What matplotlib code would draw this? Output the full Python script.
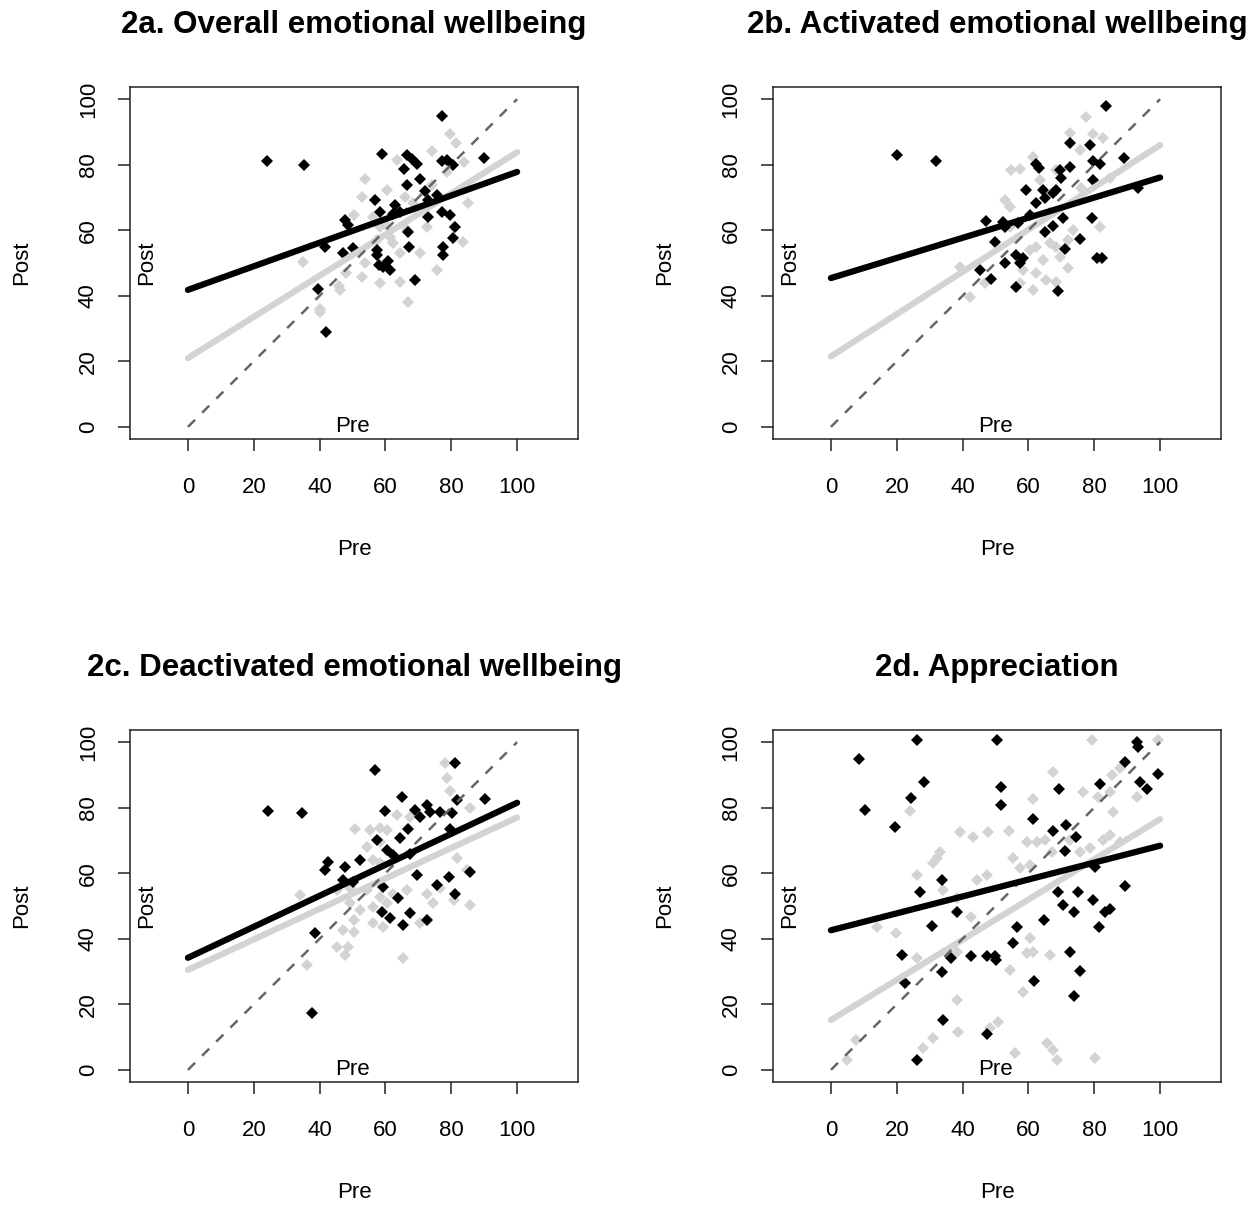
import matplotlib
from matplotlib import pyplot as plt
import numpy as np

matplotlib.use("Agg")
plt.rcParams["font.family"] = ["Liberation Sans", "DejaVu Sans"]

titles = ["2a. Overall emotional wellbeing", "2b. Activated emotional wellbeing",
          "2c. Deactivated emotional wellbeing", "2d. Appreciation"]

# black group (pre, post)
black_a_x = [77.1, 23.9, 35.3, 59.1, 66.5, 68, 69.5, 65.7, 77.1, 78.6, 80.6, 89.8, 66.5, 70.5, 56.8, 62.9, 58.2, 73,
             75.6, 62.4, 64.4, 47.7, 48.7, 77.1, 79.6, 73, 41.6, 47.2, 50.2, 67, 80.6, 67.3, 77.6, 77.6, 57.4, 57.4,
             57.9, 60.9, 61.4, 59.4, 69, 39.4, 41.9, 72, 81]
black_a_y = [94.8, 81.1, 79.8, 83.3, 83.1, 81.6, 80.2, 78.7, 81.2, 81.4, 79.9, 82.1, 73.8, 75.5, 69.2, 67.7, 65.5, 69.2,
             70.7, 65.1, 65.6, 63.1, 61.6, 65.6, 64.6, 64.1, 55, 53.1, 54.5, 59.5, 57.5, 55, 55, 52.4, 53.9, 52.4,
             49.4, 50.5, 47.9, 48.9, 44.8, 42, 28.8, 72, 61]
black_b_x = [83.5, 20.1, 32, 62.4, 63.2, 72.5, 78.6, 69.5, 72.5, 70, 79.6, 81.7, 89, 79.6, 93.3, 59.4, 64.4, 67.5, 68.5,
             64.9, 62.4, 47.2, 52.3, 52.8, 56.8, 60.4, 70.5, 67.5, 64.9, 79.2, 49.8, 75.6, 71, 80.8, 82.3, 56.3, 58.4,
             57.3, 52.8, 45.2, 48.7, 56.3, 69]
black_b_y = [97.9, 82.9, 81.1, 80.2, 78.9, 86.5, 86, 78.4, 79.2, 75.8, 81.2, 80.2, 82.1, 75.3, 72.8, 72.3, 72.3, 71.3,
             72.3, 69.7, 68.2, 62.8, 62.6, 61.1, 62.1, 64.6, 63.8, 61.3, 59.6, 63.8, 56.5, 57.2, 54.2, 51.6, 51.6,
             52.4, 51.4, 49.9, 49.9, 47.9, 45.1, 42.8, 41.5]
black_c_x = [81.2, 56.8, 24.4, 34.8, 65, 69, 70.5, 72.6, 73.6, 59.9, 81.7, 90.3, 76.6, 80.2, 67, 64.4, 57.3, 79.6, 60.4,
             62.4, 67.5, 52.3, 42.7, 41.6, 47.7, 50.2, 47.2, 59.4, 69.5, 79.2, 75.6, 85.7, 81.2, 63.9, 58.9, 61.4,
             67.5, 72.5, 65.4, 38.6, 37.6]
black_c_y = [93.5, 91.5, 79, 78.3, 83.3, 79.3, 77.3, 80.8, 78.8, 79, 82.3, 82.5, 78.8, 78.3, 73.4, 70.6, 70.1, 73.6,
             67.1, 65.5, 66, 63.9, 63.5, 60.9, 61.9, 57.3, 57.8, 55.9, 59.4, 58.9, 56.4, 60.4, 53.8, 52.3, 48.3, 46.2,
             47.8, 45.7, 44.1, 41.8, 17.4]
black_d_x = [8.5, 26, 50.6, 10.5, 24.2, 28.3, 19.4, 51.7, 51.7, 92.9, 93.4, 89.3, 99.5, 81.7, 93.9, 95.9, 69.2, 61.3,
             67.4, 71.4, 74.5, 71.1, 80.2, 89.3, 69.1, 70.6, 75.2, 73.7, 79.7, 83.3, 84.8, 81.3, 64.8, 33.6, 27.2,
             38.4, 30.8, 56.4, 21.5, 33.8, 36.4, 42.7, 47.3, 49.9, 50.1, 55.4, 61.8, 22.5, 72.6, 75.7, 73.7, 34.1,
             47.5, 26]
black_d_y = [95, 100.6, 100.6, 79.3, 83, 87.9, 74, 86.2, 80.8, 100.1, 98.6, 94, 90.2, 87.1, 87.9, 85.8, 85.6, 76.4,
             72.9, 74.7, 71.1, 66.8, 62, 56.1, 54.4, 50.3, 54.4, 48.3, 51.8, 48.3, 49, 43.7, 45.7, 57.9, 54.2, 48.1,
             43.9, 43.5, 35.1, 30, 34.1, 34.6, 34.6, 34.6, 33.6, 38.6, 27.1, 26.6, 36.1, 30.2, 22.4, 15.2, 10.9, 3]

# grey group (pre, post)
grey_a_x = [79.6, 81.5, 74.1, 83.9, 78.6, 53.8, 52.8, 60.4, 63.4, 74.1, 85.2, 50.3, 56.3, 72.5, 80.7, 83.7, 70.5, 53.8,
            52.8, 58.4, 64.4, 75.6, 67, 35.1, 40.1, 46.2, 61.4, 62.4, 64.4, 58.4, 68.5, 57.3, 66.5, 40, 46, 70, 66,
            60, 48]
grey_a_y = [89.5, 86.7, 84.2, 80.9, 77.8, 75.5, 70.2, 72.3, 81.4, 73.8, 68.2, 64.6, 64.1, 61.1, 61.1, 56.5, 53, 49.9,
            45.8, 43.8, 44.3, 47.8, 38.2, 50.4, 35.2, 41.7, 58, 56, 53, 61.1, 68.2, 57, 60, 36, 43, 66, 70, 62, 47]
grey_b_x = [77.6, 72.5, 79.6, 82.7, 75.6, 61.4, 54.8, 57.3, 52.8, 54.3, 63.4, 84.7, 81.7, 73.6, 72.1, 66.5, 68.5, 62.4,
            69.5, 72.1, 60.4, 64.4, 58.4, 62.4, 57.3, 61.4, 65.4, 68.5, 42.2, 39.1, 46.7, 76.1, 68.5, 54.3]
grey_b_y = [94.6, 89.7, 89.5, 88, 84.4, 82.4, 78.4, 78.6, 69.2, 67.2, 75.3, 75.8, 61.1, 60.1, 57, 56, 55, 55, 51.9,
            48.4, 53.9, 50.9, 47.9, 46.9, 43.8, 41.8, 44.8, 44.3, 39.7, 48.9, 43.8, 72.8, 78.4, 61.1]
grey_c_x = [78.1, 78.6, 79.6, 85.7, 50.8, 55.3, 58.4, 60.4, 54.3, 58.4, 63.4, 67.5, 56.3, 58.4, 81.7, 84.7, 34, 45.2,
            49.2, 54.3, 58.4, 62.4, 66.5, 72.5, 76.6, 49.2, 52.3, 56.3, 60.4, 50.3, 56.3, 59.4, 70.5, 74.6, 80.7,
            85.7, 47.2, 50.3, 45.2, 47.7, 48.7, 65.3, 36.1]
grey_c_y = [93.5, 89, 85.1, 79.8, 73.4, 73.2, 73.7, 73.2, 68.1, 69.6, 77.8, 77.3, 64, 63, 64.5, 61, 53.3, 54.8, 55.4,
            54.8, 52.8, 53.8, 54.8, 53.8, 55.4, 50.8, 48.8, 49.8, 50.8, 45.7, 44.7, 43.7, 44.7, 50.8, 51.8, 50.3,
            42.7, 42.2, 37.6, 35.1, 37.6, 34.2, 32]
grey_d_x = [79.2, 99.5, 67.6, 85.3, 87.8, 76.7, 81.2, 84.8, 61.5, 85.8, 92.9, 24, 39.2, 43.3, 47.8, 54.2, 59.5, 62.5,
            65, 67.1, 72.6, 75.7, 78.7, 33.1, 32.1, 31.1, 26, 44.3, 47.3, 60.5, 55.4, 57.4, 34.1, 38.2, 84.8, 87.8,
            82.8, 13.9, 19.9, 26, 38.2, 42.7, 60.5, 61.5, 59.5, 66.6, 54.4, 58.4, 38.2, 38.7, 31.1, 28.1, 50.9, 48.3,
            65.6, 67.6, 68.6, 55.9, 80.2, 4.8, 7.6]
grey_d_y = [100.6, 100.6, 90.9, 89.9, 92, 84.8, 83.3, 84.8, 82.6, 78.6, 83.3, 78.9, 72.5, 71.1, 72.5, 72.9, 69.6, 69.6,
            70.1, 66.5, 70.1, 66.5, 67.6, 66.5, 64.5, 63, 59.4, 57.9, 59.4, 62.5, 64.5, 61.5, 54.9, 52.3, 71.6, 69.6,
            70.1, 43.7, 41.7, 34, 36.1, 46.7, 40.1, 36.1, 35.6, 35.1, 30.4, 23.9, 21.3, 11.7, 9.7, 6.6, 14.7, 12.7,
            8.1, 6.1, 3, 5.1, 3.6, 3.1, 9]

# fitted lines (intercept, slope)
black_fit = [(41.8, 0.360), (45.4, 0.307), (34.2, 0.473), (42.6, 0.258)]
grey_fit = [(21.0, 0.628), (21.5, 0.645), (30.5, 0.465), (15.2, 0.613)]

black_x = [black_a_x, black_b_x, black_c_x, black_d_x]
black_y = [black_a_y, black_b_y, black_c_y, black_d_y]
grey_x = [grey_a_x, grey_b_x, grey_c_x, grey_d_x]
grey_y = [grey_a_y, grey_b_y, grey_c_y, grey_d_y]

ticks = [0, 20, 40, 60, 80, 100]
light = "#d3d3d3"
W, H = 1255, 1210

fig = plt.figure(figsize=(W / 100, H / 100), dpi=100)

for i in range(4):
    col, row = i % 2, i // 2
    left = 130 + 643 * col
    bottom = 439 + 643 * row
    ax = fig.add_axes([left / W, (H - bottom) / H, 448 / W, 352 / H])

    ax.plot(grey_x[i], grey_y[i], "D", color=light, markersize=6.5, markeredgewidth=0, zorder=2)
    ax.plot(black_x[i], black_y[i], "D", color="black", markersize=6.5, markeredgewidth=0, zorder=3)

    xs = np.array([0, 100])
    ax.plot(xs, grey_fit[i][0] + grey_fit[i][1] * xs, color=light, linewidth=4.5, solid_capstyle="round", zorder=4)
    ax.plot(xs, xs, color="#666666", linewidth=1.8, dashes=(4, 4), zorder=5)
    ax.plot(xs, black_fit[i][0] + black_fit[i][1] * xs, color="black", linewidth=4.5, solid_capstyle="round",
            zorder=6)

    ax.set_xlim(-17.6, 118.5)
    ax.set_ylim(-3.7, 103.7)
    ax.set_xticks(ticks)
    ax.set_yticks(ticks)
    ax.set_yticklabels([str(t) for t in ticks], rotation=90, va="center")
    ax.tick_params(length=8.5, width=1.1, labelsize=16, color="#222222")
    ax.tick_params(axis="x", pad=19)
    ax.tick_params(axis="y", pad=14)
    for s in ax.spines.values():
        s.set_linewidth(1.1)
        s.set_color("#222222")

    # labels written inside the box as well as outside
    ax.text(-12.5, 50, "Post", rotation=90, ha="center", va="center", fontsize=16, zorder=7)
    ax.text(50, 0, "Pre", ha="center", va="center", fontsize=16, zorder=7)

    ax.text(0.5, -0.315, "Pre", transform=ax.transAxes, ha="center", va="center", fontsize=16)
    ax.text(-0.241, 0.5, "Post", transform=ax.transAxes, rotation=90, ha="center", va="center", fontsize=16)
    ax.text(0.5, 1.176, titles[i], transform=ax.transAxes, ha="center", va="center", fontsize=22.5,
            fontweight="bold")

fig.savefig("out.png", dpi=100)
plt.close(fig)
